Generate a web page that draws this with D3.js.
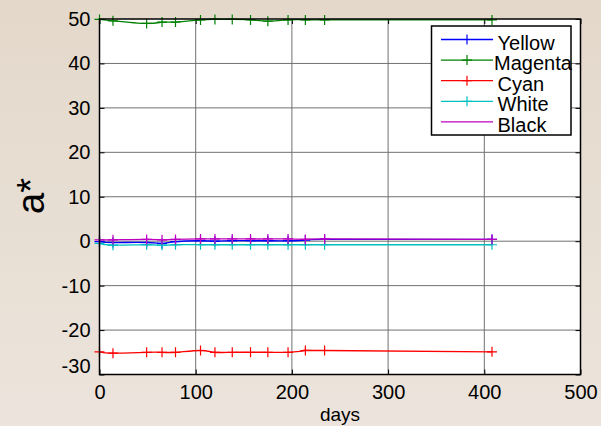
<!DOCTYPE html>
<html>
<head>
<meta charset="utf-8">
<script src="https://cdn.jsdelivr.net/npm/d3@7"></script>
<style>
  body { margin: 0; }
  svg text { font-family: "Liberation Sans", Arial, sans-serif; }
</style>
</head>
<body>
<div id="chart"></div>
<script>
(function() {

    // data
    var days = [0, 14, 49, 65, 79, 105, 120, 138, 157, 175, 196, 214, 234, 408];
    var seriesNames = ["Yellow", "Magenta", "Cyan", "White", "Black"];
    var yellow = [-0.1, -0.3, -0.3, -0.5, -0.1, 0.1, 0.0, 0.1, 0.1, 0.1, 0.1, 0.25, 0.4, 0.4];
    var magenta = [49.9, 49.6, 49.0, 49.3, 49.3, 49.8, 49.9, 49.9, 49.8, 49.5, 49.8, 49.8, 49.8, 49.8];
    var cyan = [-24.9, -25.2, -25.0, -25.0, -25.0, -24.6, -25.0, -25.0, -25.0, -25.0, -25.0, -24.6, -24.6, -24.9];
    var white = [-0.5, -0.9, -0.8, -0.9, -0.8, -0.8, -0.8, -0.8, -0.8, -0.8, -0.8, -0.8, -0.8, -0.8];
    var black = [0.3, 0.3, 0.4, 0.3, 0.4, 0.5, 0.5, 0.5, 0.5, 0.5, 0.5, 0.4, 0.5, 0.4];
    var xTicks = [0, 100, 200, 300, 400, 500];
    var yTicks = [-30, -20, -10, 0, 10, 20, 30, 40, 50];

    var allValues = [yellow, magenta, cyan, white, black];
    var colors = ["#0000ff", "#008000", "#ff0000", "#00bfbf", "#bf00bf"];
    var markerColors = ["#0000ff", "#008000", "#ff0000", "#00bfbf", "#c000c0"];
    var legendMarker = [true, true, true, true, false];

    var W = 601, H = 426;
    var margin = { top: 19, right: 20.5, bottom: 51.5, left: 99.5 },
        width = W - margin.left - margin.right,
        height = H - margin.top - margin.bottom;

    var svg = d3.select("#chart")
        .append("svg")
        .attr("width", W)
        .attr("height", H);

    // beige background gradient
    var grad = svg.append("defs").append("linearGradient")
        .attr("id", "bg").attr("x1", 0).attr("y1", 0).attr("x2", 0).attr("y2", 1);
    grad.append("stop").attr("offset", "0%").attr("stop-color", "#e3d8ca");
    grad.append("stop").attr("offset", "100%").attr("stop-color", "#ece4dc");
    svg.append("rect").attr("width", W).attr("height", H).attr("fill", "url(#bg)");

    var g = svg.append("g")
        .attr("transform", "translate(" + margin.left + "," + margin.top + ")");

    var x = d3.scaleLinear().domain([0, 500]).range([0, width]);
    var y = d3.scaleLinear().domain([-30, 50]).range([height, 0]);

    g.append("rect").attr("width", width).attr("height", height).attr("fill", "#fff");

    // grid
    g.append("g")
        .selectAll("line")
        .data(xTicks.slice(1, -1))
        .enter().append("line")
        .attr("x1", function(d) { return x(d); })
        .attr("x2", function(d) { return x(d); })
        .attr("y1", 0).attr("y2", height)
        .attr("stroke", "#707070").attr("stroke-width", 1);
    g.append("g")
        .selectAll("line")
        .data(yTicks.slice(1, -1))
        .enter().append("line")
        .attr("y1", function(d) { return y(d); })
        .attr("y2", function(d) { return y(d); })
        .attr("x1", 0).attr("x2", width)
        .attr("stroke", "#707070").attr("stroke-width", 1);

    // axes with inward ticks, plain hyphen minus like the original
    var fmt = function(d) { return String(d); };
    var axB = g.append("g").attr("transform", "translate(0," + height + ")")
        .call(d3.axisBottom(x).tickValues(xTicks).tickSize(-5).tickFormat(fmt).tickSizeOuter(0));
    var axT = g.append("g")
        .call(d3.axisTop(x).tickValues(xTicks).tickSize(-5).tickFormat("").tickSizeOuter(0));
    var axL = g.append("g")
        .call(d3.axisLeft(y).tickValues(yTicks).tickSize(-5).tickPadding(9).tickFormat(fmt).tickSizeOuter(0));
    var axR = g.append("g").attr("transform", "translate(" + width + ",0)")
        .call(d3.axisRight(y).tickValues(yTicks).tickSize(-5).tickFormat("").tickSizeOuter(0));

    [axB, axT, axL, axR].forEach(function(a) {
        a.select(".domain").remove();
        a.selectAll("line").attr("stroke", "#000");
        a.selectAll("text").attr("font-size", 20).attr("fill", "#000")
            .attr("font-family", "Liberation Sans, Arial, sans-serif");
    });
    axB.selectAll("text").attr("dy", "0.71em").attr("y", 10);
    // the bottom y label sits a bit higher, as in the picture
    axL.selectAll("text").filter(function(d) { return d === -30; })
        .attr("transform", "translate(0,-8)");

    var lineGen = d3.line()
        .x(function(d) { return x(d[0]); })
        .y(function(d) { return y(d[1]); })
        .curve(d3.curveNatural);

    var plus = 5;
    allValues.forEach(function(vals, i) {
        var pts = days.map(function(d, j) { return [d, vals[j]]; });
        g.append("path")
            .datum(pts)
            .attr("d", lineGen)
            .attr("fill", "none")
            .attr("stroke", colors[i])
            .attr("stroke-width", 1.3);
        var m = g.append("g").attr("stroke", markerColors[i]).attr("stroke-width", 1.2);
        m.selectAll("path")
            .data(pts)
            .enter().append("path")
            .attr("d", function(d) {
                var cx = x(d[0]), cy = y(d[1]);
                return "M" + (cx - plus) + "," + cy + "H" + (cx + plus) +
                       "M" + cx + "," + (cy - plus) + "V" + (cy + plus);
            });
    });

    // axes box
    g.append("rect").attr("width", width).attr("height", height)
        .attr("fill", "none").attr("stroke", "#000").attr("stroke-width", 1.5);

    // axis titles
    svg.append("text")
        .attr("x", margin.left + width / 2)
        .attr("y", 421)
        .attr("text-anchor", "middle")
        .attr("font-size", 19)
        .text("days");
    svg.append("text")
        .attr("transform", "translate(44,196) rotate(-90)")
        .attr("text-anchor", "middle")
        .attr("font-size", 38)
        .text("a*");

    // legend
    var leg = svg.append("g");
    leg.append("rect")
        .attr("x", 431.5).attr("y", 26)
        .attr("width", 139.5).attr("height", 109)
        .attr("fill", "#fff").attr("stroke", "#000").attr("stroke-width", 1.5);
    seriesNames.forEach(function(name, i) {
        var ly = 39.5 + i * 20.6;
        leg.append("line")
            .attr("x1", 441).attr("x2", 493)
            .attr("y1", ly).attr("y2", ly)
            .attr("stroke", colors[i]).attr("stroke-width", 1.3);
        if (legendMarker[i]) {
            leg.append("path")
                .attr("d", "M" + (467 - plus) + "," + ly + "H" + (467 + plus) +
                           "M467," + (ly - plus) + "V" + (ly + plus))
                .attr("stroke", markerColors[i]).attr("stroke-width", 1.2);
        }
        leg.append("text")
            .attr("x", name === "Magenta" ? 494 : 497.5)
            .attr("y", ly + 10)
            .attr("font-size", 20)
            .text(name);
    });

})();
</script>
</body>
</html>
